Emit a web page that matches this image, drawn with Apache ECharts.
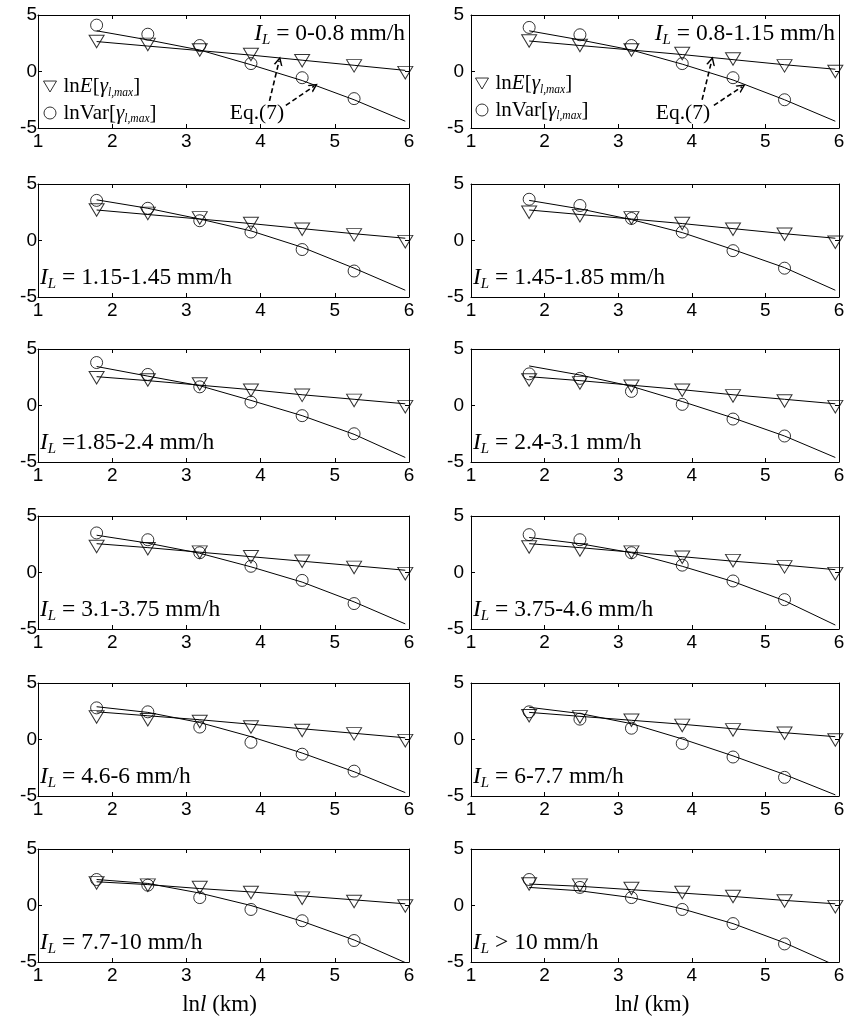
<!DOCTYPE html>
<html>
<head>
<meta charset="utf-8">
<script src="https://cdn.jsdelivr.net/npm/echarts@6/dist/echarts.min.js"></script>
<style>
  html, body { margin: 0; padding: 0; background: #fff; }
  #chart { width: 848px; height: 1023px; }
</style>
</head>
<body>
<div id="chart"></div>
<script>
// ln l (km) at the seven aggregation scales
const lnL = [1.79, 2.48, 3.18, 3.87, 4.56, 5.26, 5.95];

// rain-rate class of each panel (text after I_L)
const classText = [
  ' = 0-0.8 mm/h', ' = 0.8-1.15 mm/h', ' = 1.15-1.45 mm/h', ' = 1.45-1.85 mm/h',
  ' =1.85-2.4 mm/h', ' = 2.4-3.1 mm/h', ' = 3.1-3.75 mm/h', ' = 3.75-4.6 mm/h',
  ' = 4.6-6 mm/h', ' = 6-7.7 mm/h', ' = 7.7-10 mm/h', ' > 10 mm/h'
];

// ln E[gamma_l,max], observed
const lnEObs = [
  [2.65, 2.4, 1.9, 1.5, 0.95, 0.5, -0.1],
  [2.7, 2.3, 1.9, 1.6, 1.1, 0.5, 0.0],
  [2.7, 2.4, 2.0, 1.5, 1.0, 0.5, -0.1],
  [2.5, 2.2, 2.0, 1.5, 1.0, 0.55, -0.15],
  [2.45, 2.25, 1.9, 1.35, 0.9, 0.45, -0.1],
  [2.25, 2.0, 1.7, 1.35, 0.85, 0.4, -0.1],
  [2.3, 2.1, 1.8, 1.4, 1.0, 0.45, -0.1],
  [2.25, 2.0, 1.8, 1.35, 1.05, 0.5, -0.1],
  [2.0, 1.75, 1.6, 1.1, 0.8, 0.5, -0.1],
  [2.1, 2.0, 1.7, 1.25, 0.85, 0.55, -0.05],
  [2.0, 1.8, 1.6, 1.15, 0.65, 0.35, -0.05],
  [1.9, 1.8, 1.5, 1.15, 0.8, 0.4, -0.1]
];

// ln Var[gamma_l,max], observed (first six scales)
const lnVarObs = [
  [4.1, 3.3, 2.3, 0.7, -0.55, -2.4],
  [3.9, 3.25, 2.3, 0.7, -0.55, -2.5],
  [3.55, 2.85, 1.75, 0.75, -0.8, -2.7],
  [3.65, 3.1, 1.95, 0.75, -0.9, -2.45],
  [3.8, 2.75, 1.65, 0.3, -0.9, -2.5],
  [2.8, 2.4, 1.25, 0.1, -1.2, -2.7],
  [3.5, 2.9, 1.75, 0.55, -0.7, -2.75],
  [3.35, 2.9, 1.75, 0.65, -0.75, -2.4],
  [2.8, 2.45, 1.1, -0.25, -1.3, -2.8],
  [2.45, 1.8, 1.0, -0.35, -1.55, -3.35],
  [2.3, 1.8, 0.7, -0.35, -1.35, -3.1],
  [2.3, 1.6, 0.7, -0.35, -1.6, -3.4]
];

// Eq.(7) curves for ln E
const lnEFit = [
  [2.65, 2.25, 1.85, 1.45, 1.0, 0.55, 0.1],
  [2.7, 2.3, 1.9, 1.5, 1.05, 0.6, 0.2],
  [2.7, 2.3, 1.9, 1.5, 1.05, 0.6, 0.2],
  [2.7, 2.3, 1.9, 1.5, 1.05, 0.6, 0.2],
  [2.55, 2.2, 1.8, 1.4, 0.95, 0.55, 0.15],
  [2.55, 2.2, 1.8, 1.4, 0.95, 0.55, 0.15],
  [2.55, 2.2, 1.8, 1.4, 1.0, 0.6, 0.2],
  [2.55, 2.2, 1.8, 1.4, 1.0, 0.65, 0.25],
  [2.45, 2.1, 1.75, 1.35, 0.95, 0.55, 0.15],
  [2.4, 2.05, 1.7, 1.35, 0.95, 0.6, 0.25],
  [2.1, 1.85, 1.5, 1.2, 0.85, 0.5, 0.15],
  [1.9, 1.7, 1.4, 1.1, 0.8, 0.45, 0.15]
];

// Eq.(7) curves for ln Var
const lnVarFit = [
  [3.6, 2.8, 1.9, 0.6, -0.8, -2.5, -4.4],
  [3.6, 2.8, 1.9, 0.65, -0.75, -2.5, -4.4],
  [3.6, 2.85, 1.9, 0.85, -0.6, -2.45, -4.4],
  [3.55, 2.8, 1.85, 0.7, -0.8, -2.4, -4.4],
  [3.45, 2.6, 1.75, 0.45, -0.9, -2.55, -4.6],
  [3.5, 2.7, 1.7, 0.35, -1.1, -2.7, -4.6],
  [3.3, 2.6, 1.7, 0.5, -0.85, -2.6, -4.55],
  [3.1, 2.55, 1.75, 0.55, -0.8, -2.5, -4.65],
  [2.9, 2.4, 1.5, 0.25, -1.2, -2.85, -4.7],
  [2.85, 2.3, 1.4, 0.05, -1.45, -3.1, -4.9],
  [2.3, 1.95, 1.1, 0.0, -1.4, -3.05, -5.05],
  [1.6, 1.3, 0.7, -0.3, -1.6, -3.3, -5.3]
];

// axis ticks
const xTicks = { min: 1, max: 6, interval: 1 };
const yTicks = { min: -5, max: 5, interval: 5 };

// dashed "Eq.(7)" pointers in the two top panels, [from, to] in axis units
const eqArrows = [
  [[[4.12, -2.6], [4.25, 0.95]], [[4.34, -3.0], [4.72, -1.3]]],
  [[[4.14, -2.5], [4.27, 0.95]], [[4.30, -3.0], [4.68, -1.35]]]
];

// ---- layout ----
const colLeft = [38, 471];
const colWidth = [371, 368];
const rowTop = [15, 184, 349, 516, 683, 849];
const panelH = 113;

const SERIF = 'Liberation Serif';
const SANS = 'Liberation Sans';
const triDown = 'path://M0,0 L16,0 L8,13.5 Z';
const chevron = 'path://M0,10 L5,0 L10,10 L8.2,10 L5,3.6 L1.8,10 Z';
const hollow = { color: 'rgba(0,0,0,0)', borderColor: '#000', borderWidth: 1 };

const grids = [], xAxes = [], yAxes = [], series = [], graphics = [];

function axisCommon(g) {
  return {
    gridIndex: g, type: 'value',
    axisLine: { show: true, onZero: false, lineStyle: { color: '#000', width: 1 } },
    axisTick: { show: true, inside: true, length: 4, lineStyle: { color: '#000', width: 1 } },
    splitLine: { show: false },
    silent: true
  };
}

for (let g = 0; g < 12; g++) {
  const col = g % 2, row = Math.floor(g / 2);
  const left = colLeft[col], top = rowTop[row], w = colWidth[col];
  grids.push({ left: left, top: top, width: w, height: panelH, outerBoundsMode: 'none' });

  xAxes.push(Object.assign(axisCommon(g), xTicks, {
    position: 'bottom',
    axisLabel: { color: '#000', fontFamily: SANS, fontSize: 19, margin: 4 }
  }));
  xAxes.push(Object.assign(axisCommon(g), xTicks, {
    position: 'top', axisLabel: { show: false }
  }));
  yAxes.push(Object.assign(axisCommon(g), yTicks, {
    position: 'left',
    axisLabel: { color: '#000', fontFamily: SANS, fontSize: 19, margin: col === 0 ? 1 : 7 }
  }));
  yAxes.push(Object.assign(axisCommon(g), yTicks, {
    position: 'right', axisLabel: { show: false }
  }));

  const xi = 2 * g, yi = 2 * g;
  const lineStyle = { color: '#000', width: 1 };
  series.push({
    type: 'line', xAxisIndex: xi, yAxisIndex: yi, silent: true,
    symbol: 'none', lineStyle: lineStyle, z: 2,
    data: lnL.map((x, i) => [x, lnEFit[g][i]])
  });
  series.push({
    type: 'line', xAxisIndex: xi, yAxisIndex: yi, silent: true,
    symbol: 'none', lineStyle: lineStyle, z: 2,
    data: lnL.map((x, i) => [x, lnVarFit[g][i]])
  });

  const eSeries = {
    name: 'lnE', type: 'scatter', xAxisIndex: xi, yAxisIndex: yi, silent: true,
    symbol: triDown, symbolSize: [15, 12.5], itemStyle: hollow, z: 3,
    data: lnL.map((x, i) => [x, lnEObs[g][i]])
  };
  if (g < 2) {
    eSeries.markLine = {
      silent: true, animation: false,
      symbol: ['none', chevron], symbolSize: [9, 9],
      label: { show: false },
      lineStyle: { color: '#000', width: 1.6, type: [5, 3] },
      emphasis: { disabled: true },
      data: eqArrows[g].map(a => [{ coord: a[0] }, { coord: a[1] }])
    };
  }
  series.push(eSeries);
  series.push({
    name: 'lnVar', type: 'scatter', xAxisIndex: xi, yAxisIndex: yi, silent: true,
    symbol: 'circle', symbolSize: 12, itemStyle: hollow, z: 3,
    data: lnL.slice(0, 6).map((x, i) => [x, lnVarObs[g][i]])
  });

  // I_L class label
  const labelRich = {
    i: { fontFamily: SERIF, fontSize: 23.5, fontStyle: 'italic', lineHeight: 27, fill: '#000' },
    s: { fontFamily: SERIF, fontSize: 15, fontStyle: 'italic', lineHeight: 12, verticalAlign: 'bottom', fill: '#000' },
    n: { fontFamily: SERIF, fontSize: 23.5, lineHeight: 27, fill: '#000' }
  };
  const labelText = '{i|I}{s|L}{n|' + classText[g] + '}';
  if (g < 2) {
    graphics.push({
      type: 'text', x: left + w - 4, y: top + 19, silent: true,
      style: { text: labelText, rich: labelRich, align: 'right', verticalAlign: 'middle' }
    });
  } else {
    graphics.push({
      type: 'text', x: left + 2, y: top + 94, silent: true,
      style: { text: labelText, rich: labelRich, align: 'left', verticalAlign: 'middle' }
    });
  }
}

// "Eq.(7)" captions
[[257, 113], [683, 113]].forEach(p => {
  graphics.push({
    type: 'text', x: p[0], y: p[1], silent: true,
    style: { text: 'Eq.(7)', fontFamily: SERIF, fontSize: 21.5, fill: '#000', align: 'center', verticalAlign: 'middle' }
  });
});

// x-axis titles
[colLeft[0] + colWidth[0] / 2 - 4, colLeft[1] + colWidth[1] / 2 - 3].forEach(cx => {
  graphics.push({
    type: 'text', x: cx, y: 1005, silent: true,
    style: {
      text: '{n|ln}{i|l}{n| (km)}', align: 'center', verticalAlign: 'middle',
      rich: {
        n: { fontFamily: SERIF, fontSize: 23, fill: '#000' },
        i: { fontFamily: SERIF, fontSize: 23, fontStyle: 'italic', fill: '#000' }
      }
    }
  });
});

// in-axes legends of the two top panels
const legendRich = {
  n: { fontFamily: SERIF, fontSize: 21, lineHeight: 24, color: '#000' },
  i: { fontFamily: SERIF, fontSize: 21, fontStyle: 'italic', lineHeight: 24, color: '#000' },
  s: { fontFamily: SERIF, fontSize: 11.5, fontStyle: 'italic', lineHeight: 9, verticalAlign: 'bottom', color: '#000' }
};
function legendAt(left, top) {
  return {
    left: left, top: top, orient: 'vertical', itemGap: 4,
    itemWidth: 13, itemHeight: 12, selectedMode: false,
    data: [{ name: 'lnE', icon: triDown }, { name: 'lnVar', icon: 'circle' }],
    itemStyle: hollow,
    formatter: name => name === 'lnE'
      ? '{n|ln}{i|E}{n|[}{i|γ}{s|l,max}{n|]}'
      : '{n|lnVar[}{i|γ}{s|l,max}{n|]}',
    textStyle: { color: '#000', fontFamily: SERIF, fontSize: 21, padding: [0, 0, 0, 2], rich: legendRich }
  };
}

const chart = echarts.init(document.getElementById('chart'), null, { renderer: 'canvas' });
chart.setOption({
  backgroundColor: '#fff',
  animation: false,
  grid: grids,
  xAxis: xAxes,
  yAxis: yAxes,
  legend: [legendAt(38, 71), legendAt(470, 68)],
  series: series,
  graphic: graphics
});
</script>
</body>
</html>
